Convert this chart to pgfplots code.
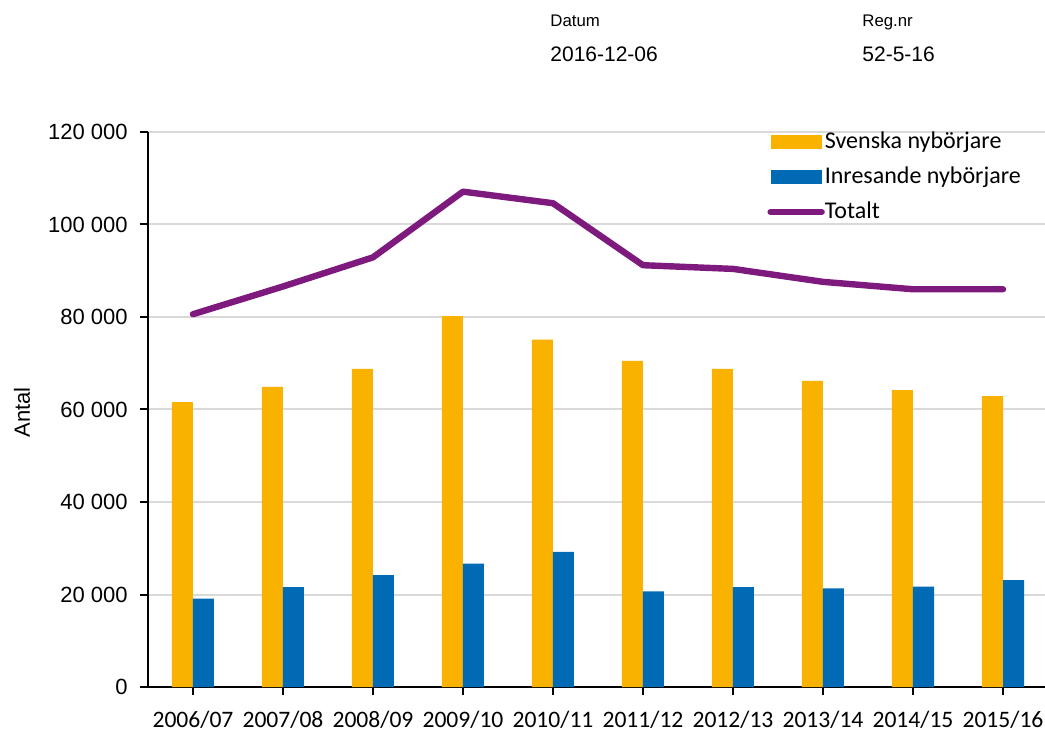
\documentclass[border=0pt]{standalone}
\usepackage{pgfplots}
\pgfplotsset{compat=1.18}
\usepackage{fontspec}
\setmainfont{Carlito}
\newfontfamily\arial{Liberation Sans}
\definecolor{svensk}{HTML}{F9B200}
\definecolor{inres}{HTML}{006AB4}
\definecolor{total}{HTML}{7E1A7E}
\definecolor{gridc}{HTML}{D9D9D9}

\begin{document}
\begin{tikzpicture}
\useasboundingbox (-74pt,-21pt) rectangle (448.5pt,343.5pt);
\begin{axis}[
    scale only axis, width=450pt, height=277.5pt,
    xmin=-0.5, xmax=9.5, ymin=0, ymax=120000,
    axis x line*=bottom, axis y line*=left,
    axis line style={line width=1pt, -},
    xtick={0,...,9},
    xticklabels={2006/07,2007/08,2008/09,2009/10,2010/11,2011/12,2012/13,2013/14,2014/15,2015/16},
    ytick={0,20000,40000,60000,80000,100000,120000},
    yticklabels={0,20 000,40 000,60 000,80 000,100 000,120 000},
    scaled y ticks=false,
    tick align=outside, major tick length=4pt,
    tick style={line width=1pt, black},
    ymajorgrids, grid style={line width=1pt, gridc},
    xticklabel style={font=\fontsize{11.8}{13}\selectfont, inner sep=0pt, anchor=base, yshift=-16.3pt},
    yticklabel style={font=\arial\fontsize{11}{13}\selectfont, inner sep=0pt, anchor=east, xshift=-6pt},
    ylabel={\arial Antal},
    ylabel style={font=\fontsize{11}{13}\selectfont, at={(axis description cs:-0.14,0.495)}, anchor=center},
    legend cell align=left,
    legend style={draw=none, fill=none, at={(axis description cs:0.6878,1.0024)}, anchor=north west,
        font=\fontsize{12}{14}\selectfont, inner sep=0pt, row sep=6.5pt,
        nodes={inner sep=0pt, text height=8.5pt, text depth=2.5pt},
        /tikz/column 1/.style={column sep=0pt}},
]
\addplot[ybar, bar width=10.5pt, bar shift=-5.25pt, fill=svensk, draw=none,
    legend image code/.code={\fill[svensk] (0pt,-3.5pt) rectangle (25.5pt,3.5pt);}]
    coordinates {(0,61600) (1,64900) (2,68800) (3,80200) (4,75100) (5,70500) (6,68800) (7,66200) (8,64200) (9,62900)};
\addlegendentry{Svenska nybörjare}
\addplot[ybar, bar width=10.5pt, bar shift=5.25pt, fill=inres, draw=none,
    legend image code/.code={\fill[inres] (0pt,-3.5pt) rectangle (25.5pt,3.5pt);}]
    coordinates {(0,19100) (1,21600) (2,24200) (3,26700) (4,29200) (5,20700) (6,21600) (7,21300) (8,21700) (9,23100)};
\addlegendentry{Inresande nybörjare}
\addplot[total, line width=3.2pt, line cap=round, line join=round, mark=none,
    legend image code/.code={\draw[total, line width=3.2pt, line cap=round] (0pt,0pt) -- (25.5pt,0pt);}]
    coordinates {(0,80600) (1,86600) (2,92900) (3,107100) (4,104600) (5,91200) (6,90400) (7,87600) (8,86000) (9,86000)};
\addlegendentry{Totalt}
\end{axis}
\node[anchor=base west, inner sep=0pt, font=\arial\fontsize{8.4}{10}\selectfont] at (201pt,330pt) {Datum};
\node[anchor=base west, inner sep=0pt, font=\arial\fontsize{10.5}{12}\selectfont] at (201pt,312.5pt) {2016-12-06};
\node[anchor=base west, inner sep=0pt, font=\arial\fontsize{8.4}{10}\selectfont] at (357pt,330pt) {Reg.nr};
\node[anchor=base west, inner sep=0pt, font=\arial\fontsize{10.5}{12}\selectfont] at (357pt,312.5pt) {52-5-16};
\end{tikzpicture}
\end{document}
